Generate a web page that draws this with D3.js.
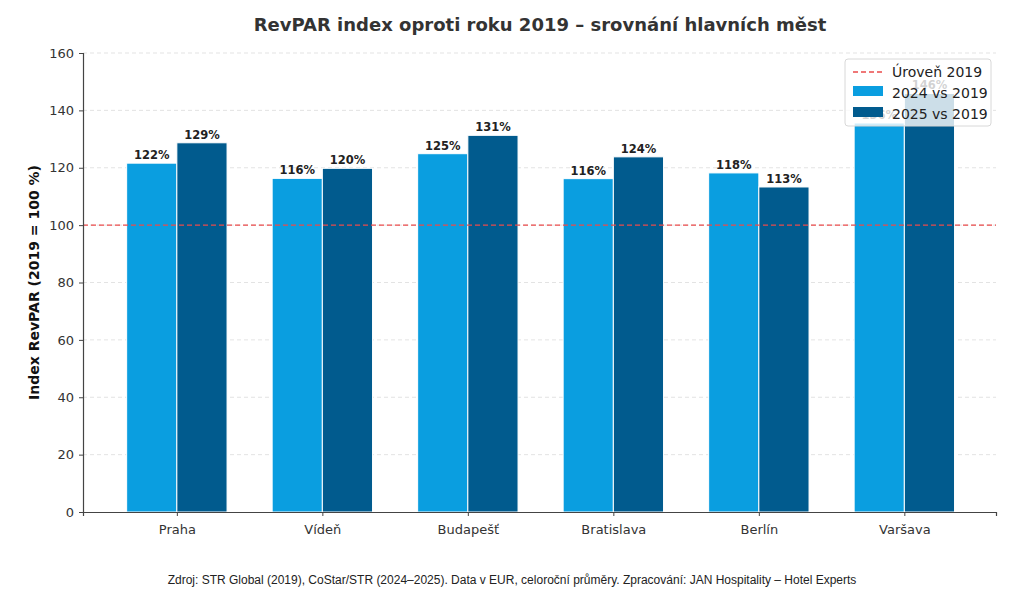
<!DOCTYPE html>
<html>
<head>
<meta charset="utf-8">
<script src="https://cdn.jsdelivr.net/npm/d3@7"></script>
<style>
  body { margin: 0; background: #fff; }
  svg { display: block; font-family: "DejaVu Sans", sans-serif; }
</style>
</head>
<body>
<div id="chart"></div>
<script>
const cities = ["Praha", "Vídeň", "Budapešť", "Bratislava", "Berlín", "Varšava"];
const idx2024 = [121.6, 116.3, 124.9, 116.2, 118.2, 135.6];
const idx2025 = [128.7, 119.8, 131.3, 123.8, 113.3, 145.9];
const yTicks = [0, 20, 40, 60, 80, 100, 120, 140, 160];
const seriesNames = ["2024 vs 2019", "2025 vs 2019"];
const baselineLabel = "Úroveň 2019";

const W = 1024, H = 614;
const margin = {top: 53, right: 28, bottom: 102, left: 83};
const width = W - margin.left - margin.right,
      height = H - margin.top - margin.bottom;
const colors = ["#0a9ee0", "#015b8e"];

const svg = d3.select("#chart").append("svg")
    .attr("width", W).attr("height", H);

svg.append("text")
    .attr("x", 540).attr("y", 31)
    .attr("text-anchor", "middle")
    .attr("font-size", 18).attr("font-weight", "bold")
    .attr("fill", "#333")
    .text("RevPAR index oproti roku 2019 – srovnání hlavních měst");

const g = svg.append("g").attr("transform", `translate(${margin.left},${margin.top})`);

// x as continuous index like matplotlib positions
const x = d3.scaleLinear().domain([-0.645, 5.63]).range([0, width]);
const y = d3.scaleLinear().domain([0, 160]).range([height, 0]);
const bw = 0.345;

// grid
g.append("g").selectAll("line").data(yTicks.slice(1)).join("line")
    .attr("x1", 0).attr("x2", width)
    .attr("y1", d => y(d)).attr("y2", d => y(d))
    .attr("stroke", "#dcdcdc").attr("stroke-dasharray", "4,3").attr("stroke-width", 0.8);

// bars
const series = [idx2024, idx2025];
series.forEach((vals, s) => {
  const off = s === 0 ? -bw / 2 : bw / 2;
  g.append("g").selectAll("rect").data(vals).join("rect")
      .attr("x", (d, i) => x(i + off - bw / 2))
      .attr("width", x(bw) - x(0))
      .attr("y", d => y(d))
      .attr("height", d => height - y(d))
      .attr("fill", colors[s])
      .attr("stroke", "#fff").attr("stroke-width", 1);
  g.append("g").selectAll("text").data(vals).join("text")
      .attr("x", (d, i) => x(i + off))
      .attr("y", d => y(d) - 4)
      .attr("text-anchor", "middle")
      .attr("font-size", 11.5).attr("font-weight", "bold")
      .attr("fill", "#222")
      .text(d => Math.round(d) + "%");
});

// baseline 100
g.append("line")
    .attr("x1", 0).attr("x2", width)
    .attr("y1", y(100)).attr("y2", y(100))
    .attr("stroke", "#ea4b4b").attr("stroke-width", 1.4)
    .attr("stroke-dasharray", "5,3");

// axes
const yAxis = g.append("g")
    .call(d3.axisLeft(y).tickValues(yTicks).tickSize(4).tickPadding(5));
const xAxis = g.append("g").attr("transform", `translate(0,${height})`)
    .call(d3.axisBottom(x).tickValues(d3.range(cities.length)).tickFormat(i => cities[i]).tickSize(4).tickPadding(6));
[yAxis, xAxis].forEach(a => {
  a.select(".domain").attr("stroke", "#444").attr("stroke-width", 1.2);
  a.selectAll(".tick line").attr("stroke", "#444");
  a.selectAll(".tick text").attr("font-size", 13).attr("fill", "#333")
      .attr("font-family", "DejaVu Sans, sans-serif");
});
xAxis.selectAll(".tick text").attr("dy", "0.9em");

svg.append("text")
    .attr("transform", `translate(39,${margin.top + height / 2}) rotate(-90)`)
    .attr("text-anchor", "middle")
    .attr("font-size", 14).attr("font-weight", "bold").attr("fill", "#111")
    .text("Index RevPAR (2019 = 100 %)");

// legend
const lg = svg.append("g").attr("transform", "translate(845,59)");
lg.append("rect").attr("width", 146).attr("height", 67).attr("rx", 3)
    .attr("fill", "#fff").attr("fill-opacity", 0.8)
    .attr("stroke", "#d8d8d8");
lg.append("line").attr("x1", 8).attr("x2", 38).attr("y1", 13).attr("y2", 13)
    .attr("stroke", "#ea4b4b").attr("stroke-width", 1.4).attr("stroke-dasharray", "5,3");
seriesNames.forEach((n, i) => {
  lg.append("rect").attr("x", 8).attr("y", 27 + i * 21).attr("width", 30).attr("height", 10)
      .attr("fill", colors[i]);
});
[baselineLabel].concat(seriesNames).forEach((t, i) => {
  lg.append("text").attr("x", 47).attr("y", 18 + i * 21)
      .attr("font-size", 14).attr("fill", "#222").text(t);
});

svg.append("text")
    .attr("x", 512).attr("y", 584)
    .attr("text-anchor", "middle")
    .attr("font-size", 12).attr("fill", "#222")
    .attr("font-family", "Liberation Sans Narrow, Liberation Sans, sans-serif")
    .text("Zdroj: STR Global (2019), CoStar/STR (2024–2025). Data v EUR, celoroční průměry. Zpracování: JAN Hospitality – Hotel Experts");
</script>
</body>
</html>
